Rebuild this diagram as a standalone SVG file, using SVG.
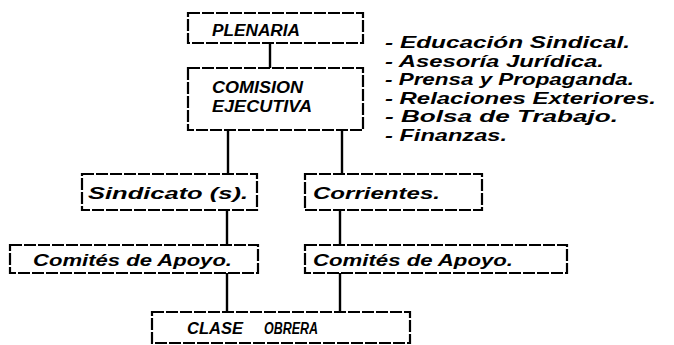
<svg xmlns="http://www.w3.org/2000/svg" width="674" height="345" viewBox="0 0 674 345">
<style>
.box{fill:none;stroke:#000;stroke-width:2.2;stroke-dasharray:12 2}
.con{stroke:#000;stroke-width:2.4;fill:none}
.t{font-family:'Liberation Sans',Arial,sans-serif;font-weight:bold;font-style:italic;fill:#000}
.cap{font-size:16px}
.lab{font-size:17px}
</style>
<rect width="674" height="345" fill="#fff"/>
<g id="connectors">
<line class="con" x1="270" y1="43" x2="270" y2="68"/>
<line class="con" x1="228" y1="130" x2="228" y2="174"/>
<line class="con" x1="342" y1="130" x2="342" y2="174"/>
<line class="con" x1="227" y1="210" x2="227" y2="245"/>
<line class="con" x1="340" y1="210" x2="340" y2="245"/>
<line class="con" x1="227" y1="273" x2="227" y2="312"/>
<line class="con" x1="340" y1="273" x2="340" y2="312"/>
</g>
<g id="plenaria">
<rect class="box" x="188" y="13" width="175" height="30"/>
<text class="t cap" x="212" y="36" textLength="88" lengthAdjust="spacingAndGlyphs">PLENARIA</text>
</g>
<g id="comision">
<rect class="box" x="188" y="68" width="175" height="62"/>
<text class="t cap" x="212" y="93" textLength="91" lengthAdjust="spacingAndGlyphs">COMISION</text>
<text class="t cap" x="212" y="112" textLength="100" lengthAdjust="spacingAndGlyphs">EJECUTIVA</text>
</g>
<g id="funciones">
<text class="t lab" x="385" y="48" textLength="245" lengthAdjust="spacingAndGlyphs">- Educación Sindical.</text>
<text class="t lab" x="385" y="66.5" textLength="219" lengthAdjust="spacingAndGlyphs">- Asesoría Jurídica.</text>
<text class="t lab" x="385" y="85" textLength="249" lengthAdjust="spacingAndGlyphs">- Prensa y Propaganda.</text>
<text class="t lab" x="385" y="103.5" textLength="271" lengthAdjust="spacingAndGlyphs">- Relaciones Exteriores.</text>
<text class="t lab" x="385" y="122" textLength="233" lengthAdjust="spacingAndGlyphs">- Bolsa de Trabajo.</text>
<text class="t lab" x="385" y="140.5" textLength="122" lengthAdjust="spacingAndGlyphs">- Finanzas.</text>
</g>
<g id="sindicato">
<rect class="box" x="82" y="174" width="175" height="36"/>
<text class="t lab" x="88" y="199" textLength="160" lengthAdjust="spacingAndGlyphs">Sindicato (s).</text>
</g>
<g id="corrientes">
<rect class="box" x="305" y="174" width="177" height="36"/>
<text class="t lab" x="313" y="199" textLength="127" lengthAdjust="spacingAndGlyphs">Corrientes.</text>
</g>
<g id="comites1">
<rect class="box" x="10" y="245" width="248" height="28"/>
<text class="t lab" x="33" y="266" textLength="199" lengthAdjust="spacingAndGlyphs">Comités de Apoyo.</text>
</g>
<g id="comites2">
<rect class="box" x="305" y="245" width="262" height="28"/>
<text class="t lab" x="313" y="266" textLength="200" lengthAdjust="spacingAndGlyphs">Comités de Apoyo.</text>
</g>
<g id="clase">
<rect class="box" x="152" y="312" width="258" height="31"/>
<text class="t cap" x="187" y="334" textLength="56" lengthAdjust="spacingAndGlyphs">CLASE</text>
<text class="t cap" x="264" y="334" textLength="54" lengthAdjust="spacingAndGlyphs">OBRERA</text>
</g>
</svg>
